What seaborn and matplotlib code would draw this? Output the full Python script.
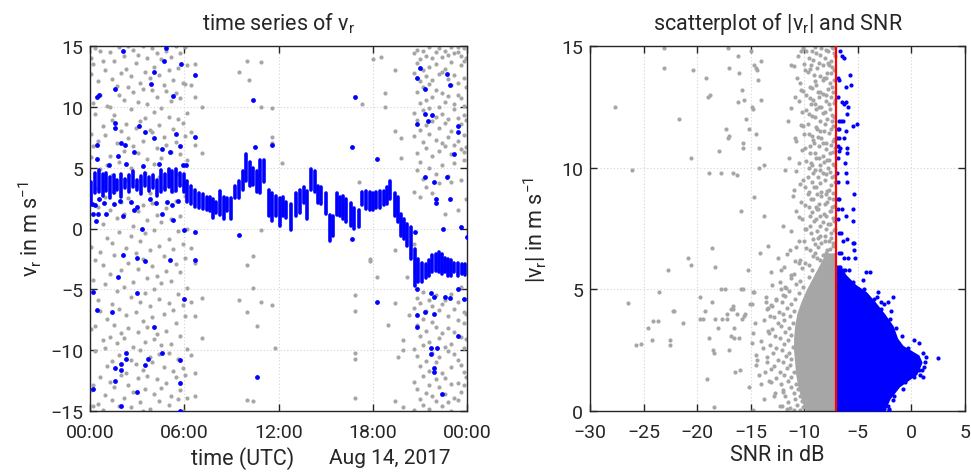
import numpy as np
import pandas as pd
import matplotlib
matplotlib.use("Agg")
import matplotlib.pyplot as plt
import seaborn as sns

# ---------------- data: left panel (time series of v_r) ----------------
# discarded (low-SNR) estimates: time (h) -> list of v_r values
gray_cols = {
    0.05: [14.0, 12.7, 7.8, 5.9, -1.5, -8.3, -13.3],
    0.2: [13.5, 10.3, 6.8, 2.0, -4.2, -12.9, -14.6],
    0.35: [14.8, 9.4, 3.3, -2.6, -8.0, -10.1],
    0.5: [12.1, 7.2, 1.8, -5.9, -14.4],
    0.65: [14.6, 11.0, 4.9, -1.9, -6.8, -12.2],
    0.8: [13.8, 8.4, 0.4, -3.0, -9.2, -14.9],
    0.95: [13.0, 7.7, 2.6, -4.6, -9.8, -13.7],
    1.1: [10.1, 5.2, -0.8, -7.4, -11.3],
    1.25: [14.5, 10.0, 6.0, 1.5, -3.7, -8.9, -12.6],
    1.4: [12.3, 8.9, 4.4, -1.2, -6.2, -10.9, -14.1],
    1.55: [13.8, 9.3, 3.0, -2.2, -7.9, -13.0],
    1.7: [11.7, 7.0, 0.9, -5.1, -9.4],
    1.85: [14.9, 11.0, 5.5, -0.3, -6.6, -10.4, -14.6],
    2.0: [12.8, 8.0, 2.2, -3.4, -8.6, -12.0],
    2.15: [14.2, 10.6, 6.4, 1.2, -4.8, -9.0, -13.9],
    2.3: [13.1, 8.6, 4.0, -1.6, -7.1, -11.9],
    2.45: [15.0, 11.6, 7.4, 2.5, -2.8, -8.2, -12.9],
    2.6: [12.5, 9.8, 5.0, -0.6, -5.6, -10.8, -14.7],
    2.75: [14.7, 11.2, 6.8, 0.2, -4.4, -9.7, -13.4],
    2.9: [13.6, 8.3, 3.5, -2.0, -6.9, -11.1],
    3.05: [14.3, 10.4, 6.2, 1.4, -3.3, -8.5, -12.3],
    3.2: [12.0, 8.8, 3.9, -1.0, -6.0, -10.0, -14.3],
    3.35: [15.0, 11.5, 7.2, 1.9, -2.5, -7.6, -11.6, -15.0],
    3.5: [12.9, 9.1, 4.6, -0.4, -5.3, -9.3, -13.2],
    3.65: [14.0, 10.2, 5.7, 0.7, -4.1, -8.1, -12.1],
    3.8: [12.4, 8.1, 2.9, -1.8, -6.4, -10.6, -14.8],
    3.95: [14.8, 11.4, 7.9, 2.1, -3.1, -7.3, -11.0],
    4.1: [13.3, 9.6, 5.3, -0.1, -5.0, -9.1, -13.6],
    4.25: [14.4, 10.8, 6.6, 1.1, -3.9, -8.7, -12.4],
    4.4: [12.6, 8.5, 4.2, -1.4, -5.8, -10.3, -14.2],
    4.55: [13.9, 9.9, 5.8, 0.5, -4.5, -9.6, -13.1],
    4.7: [11.8, 7.5, 3.4, -2.3, -7.0, -11.4],
    4.85: [14.6, 11.3, 6.9, 1.7, -3.5, -8.4, -12.7],
    5.0: [13.0, 9.2, 4.7, -0.9, -6.1, -10.2, -14.5],
    5.15: [14.1, 10.5, 6.3, 0.8, -4.3, -9.5, -13.8],
    5.3: [12.2, 8.2, 3.1, -1.7, -6.7, -11.7],
    5.45: [15.0, 11.1, 7.1, 2.3, -2.9, -7.8, -12.2],
    5.6: [13.2, 9.0, 4.5, -0.2, -5.4, -10.7, -14.0],
    5.75: [14.4, 10.7, 6.1, 1.0, -3.6, -8.8, -13.3],
    5.9: [12.0, 8.7, 3.6, -1.3, -6.3, -11.5, -15.0],
    6.05: [14.9, 11.9, 7.6, 2.7, -2.4, -7.2, -12.0],
    6.2: [13.4, 9.5, 5.6, 0.0, -4.9, -9.9, -13.9],
    6.4: [11.8, 7.9, -1.6, -6.0, -10.4],
    6.7: [13.5, 10.8, 6.9, -2.8, -7.2, -11.9, -13.8],
    7.1: [10.0, 6.2, -5.7, -9.0],
    9.5: [12.9, -5.9],
    10.0: [13.8, -3.0, -6.9, -14.1],
    10.1: [12.2],
    10.4: [-2.3, -4.9, -14.2],
    10.6: [-8.0],
    10.9: [13.7, 10.0, -0.1, -6.0],
    11.6: [9.9, 7.5, 7.0, -6.3],
    11.8: [-9.8],
    12.2: [5.4],
    16.9: [-5.5, -6.8, -10.2, -10.7, -13.9],
    17.1: [3.8],
    17.3: [10.2],
    17.8: [-2.7, -2.5],
    18.0: [13.9],
    18.3: [-4.0],
    18.5: [14.1],
    18.8: [10.0, 11.1],
    19.0: [-7.9],
    19.4: [13.0, 8.0, -6.1, -1.8, -14.2],
    19.6: [-10.6],
    19.8: [5.8, 7.4],
    19.9: [-9.2, -10.0, -14.7],
    20.2: [-4.0],
    20.3: [-7.1],
    20.6: [14.4, 12.8, 9.5, 7.6, 3.0, -1.3, -6.5, -9.9, -12.6, -14.9],
    20.8: [14.7, 13.6, 11.2, 8.9, 6.2, 4.8, -5.7, -7.9, -10.5, -13.2],
    21.0: [13.9, 12.1, 10.3, 8.1, 5.5, 2.6, -6.1, -8.8, -11.3, -14.0],
    21.2: [14.6, 13.0, 11.6, 9.7, 7.1, 4.1, -5.2, -7.4, -9.6, -12.1, -14.5],
    21.4: [14.2, 12.5, 10.6, 8.5, 6.6, 3.4, -6.8, -8.4, -10.9, -13.5],
    21.6: [14.9, 13.3, 11.9, 9.9, 7.8, 5.0, -5.9, -9.3, -11.7, -12.9, -14.8],
    21.8: [14.0, 12.2, 10.8, 8.8, 6.0, 2.9, -6.4, -7.7, -10.2, -13.8],
    22.0: [14.5, 13.5, 11.4, 9.2, 7.3, 4.5, -5.5, -8.1, -11.0, -12.4, -14.2],
    22.2: [14.8, 12.7, 10.0, 8.3, 6.4, 3.7, -6.7, -9.0, -10.6, -13.0],
    22.4: [14.1, 12.9, 11.1, 9.4, 7.0, 5.2, -6.2, -8.6, -11.9, -14.6],
    22.6: [14.6, 13.1, 10.4, 8.7, 6.8, 1.2, -5.9, -9.7, -12.3, -13.6],
    22.8: [14.3, 12.3, 10.9, 9.0, 7.5, 4.3, -7.2, -8.2, -10.1, -14.3],
    23.0: [14.9, 13.7, 11.8, 8.0, 6.1, 3.8, -5.4, -9.5, -11.4, -12.8, -15.0],
    23.2: [14.4, 12.6, 10.2, 9.8, 6.9, 5.4, -6.6, -8.5, -10.3, -13.9],
    23.4: [14.9, 14.5, 12.0, 11.0, 9.1, 7.2, 1.5, -6.0, -7.5, -10.8, -12.7, -14.1],
    23.6: [14.2, 13.4, 10.7, 8.6, 6.5, 4.0, -4.8, -8.9, -11.2, -13.4],
    23.8: [14.8, 13.8, 12.4, 10.1, 9.3, 7.7, 6.3, 5.6, -6.9, -7.8, -9.8, -11.8, -12.9],
    23.95: [14.0, 11.6, 8.9, 6.7, 2.4, -7.0, -9.1, -12.2],
}

# accepted estimates: continuous range of v_r per profile (time, low, high)
band_t = [0.05, 0.3, 0.55, 0.8, 1.0, 1.25, 1.5, 1.75, 2.0, 2.25, 2.5, 2.75, 3.0, 3.25,
          3.5, 3.75, 4.0, 4.25, 4.5, 4.75, 5.0, 5.25, 5.5, 5.75, 6.0,
          6.2, 6.45, 6.7, 6.95, 7.2, 7.45, 7.65, 7.85, 8.05, 8.3, 8.55, 8.75, 9.0,
          9.25, 9.5, 9.75, 9.95, 10.2, 10.4, 10.6, 10.85, 11.1, 11.4, 11.6, 11.85,
          12.1, 12.3, 12.5, 12.8, 13.1, 13.4, 13.6, 13.8, 14.05, 14.3, 14.5, 14.7,
          15.0, 15.3, 15.5, 15.7, 15.9, 16.1, 16.3, 16.6, 16.8, 17.1, 17.3, 17.6,
          17.8, 18.0, 18.2, 18.45, 18.7, 18.9, 19.1, 19.4, 19.6, 19.8, 20.0, 20.2,
          20.45, 20.7, 20.9, 21.15, 21.4, 21.6, 21.8, 22.0, 22.2, 22.4, 22.6, 22.8,
          23.0, 23.2, 23.45, 23.65, 23.85]
band_lo = [2.2, 2.9, 3.0, 2.7, 3.1, 2.5, 2.9, 3.2, 2.6, 3.3, 3.0, 3.4, 3.2, 2.8,
           3.5, 3.1, 3.3, 2.7, 3.0, 3.2, 3.4, 3.0, 3.1, 3.5, 3.0,
           2.2, 2.0, 1.8, 1.7, 1.6, 1.5, 1.4, 0.9, 1.3, 1.1, 0.8, 1.4, 0.8,
           2.5, 2.5, 3.2, 3.9, 3.5, 3.6, 3.0, 2.9, 3.8, 1.0, 0.6, 1.0,
           0.2, 1.0, 0.9, -0.1, 1.0, 1.3, 2.1, 0.8, 3.2, 3.0, 2.1, 2.0,
           1.2, -1.0, -0.6, 1.1, 1.0, 0.8, 0.5, 0.2, 0.0, 0.1, 1.9, 1.6,
           1.5, 1.5, 1.7, 1.7, 1.9, 2.0, 2.4, 1.0, 0.5, -0.6, -0.9, -1.4,
           -2.5, -4.7, -4.4, -4.4, -4.1, -3.9, -3.6, -3.5, -3.6, -3.7, -3.6, -3.9,
           -3.9, -3.6, -3.9, -3.7, -3.8]
band_hi = [3.8, 4.6, 4.8, 4.5, 4.6, 4.2, 4.4, 4.0, 4.5, 4.1, 4.4, 4.7, 4.0, 4.3,
           4.6, 4.2, 4.4, 4.0, 4.8, 4.5, 4.9, 4.7, 4.9, 4.6, 4.5,
           3.9, 3.5, 3.2, 2.9, 2.8, 2.6, 2.6, 2.4, 2.2, 3.1, 2.6, 2.5, 2.5,
           3.5, 3.9, 4.7, 6.1, 5.5, 5.0, 4.7, 5.6, 5.6, 3.2, 2.9, 2.7,
           2.5, 2.6, 2.2, 2.0, 2.9, 3.2, 3.4, 3.1, 4.9, 4.7, 3.5, 3.4,
           2.9, 1.1, 1.0, 2.9, 2.6, 2.7, 2.4, 2.1, 1.7, 1.5, 3.0, 3.1,
           3.0, 2.9, 3.0, 3.1, 3.1, 3.4, 3.9, 2.9, 2.6, 1.2, 0.8, 0.4,
           0.1, -1.7, -2.5, -2.8, -2.9, -2.6, -2.2, -2.1, -1.95, -2.1, -2.4, -2.5,
           -2.6, -2.8, -2.8, -2.9, -2.9]

# accepted estimates outside the continuous range (time, v_r)
blue_t = [0.43, 0.55, 2.1, 4.85, 5.8, 4.7, 4.1, 3.9, 1.6, 5.3, 6.7, 6.7, 1.6, 1.6, 0.43, 0.43,
          3.1, 3.5, 4.1, 5.5, 5.7, 2.0, 2.2, 1.8, 2.8, 4.6, 5.1, 10.4, 10.5, 11.6, 16.9, 16.7,
          18.3, 20.8, 21.0, 21.3, 20.8, 21.5, 21.8, 21.3, 22.7, 22.9, 23.2, 23.4, 23.4, 21.9,
          21.3, 22.7, 22.0, 22.0, 22.9, 23.6, 22.5, 20.7, 24.0, 0.5, 1.0, 2.1, 2.8, 3.3, 5.3,
          4.6, 6.0, 6.7, 0.4, 0.2, 0.2, 0.43, 1.4, 1.8, 2.1, 3.0, 3.5, 3.0, 4.1, 5.1, 6.0, 6.7,
          2.3, 2.3, 1.6, 2.0, 2.0, 1.6, 0.2, 3.0, 2.0, 3.5, 3.7, 4.6, 5.7, 5.7, 5.7, 9.5, 10.6,
          16.7, 18.3, 20.8, 20.8, 21.3, 21.9, 21.7, 21.7, 22.1, 21.9, 21.9, 22.4, 23.4, 23.4,
          21.9, 22.6, 22.9, 23.8, 21.7, 20.8, 0.1, 0.3, 0.6, 0.9, 1.2, 1.5, 1.9, 2.3, 2.6,
          3.0, 3.4, 3.8, 4.2, 4.4, 4.9, 5.2, 5.6, 5.9, 6.1]
blue_v = [10.8, 11.0, 14.6, 14.8, 13.5, 13.8, 12.9, 11.9, 11.5, 10.9, 12.6, 7.5, 8.7, 8.3, 6.9, 5.7,
          8.4, 7.9, 7.4, 7.8, 6.8, 7.0, 6.9, 6.0, 6.3, 6.5, 6.3, 10.6, 6.7, 6.9, 10.8, 6.7,
          5.7, 12.4, 13.2, 11.5, 8.6, 8.8, 9.3, 9.4, 12.7, 11.8, 6.1, 8.4, 7.9, 3.8,
          4.2, 4.2, 2.4, 2.1, 2.4, 0.1, 0.0, -0.3, -0.7, 1.2, 1.2, 1.0, 1.5, 0.0, 0.7,
          1.2, -0.1, -0.3, 0.6, 1.2, -5.2, -6.7, -6.9, -4.0, -2.2, -2.4, -2.7, -5.3, -8.1, -2.6, -5.8, -2.6,
          -10.2, -10.7, -11.5, -11.1, -11.6, -12.5, -13.2, -13.4, -14.6, -11.2, -10.7, -10.2, -10.8, -12.7, -15.0, -0.5, -12.2,
          -0.9, -6.0, -8.1, -7.1, -6.9, -7.0, -9.8, -10.3, -9.8, -11.5, -11.8, -13.6, -8.8, -5.0,
          -5.6, -5.6, -5.7, -5.8, -5.3, -5.0, 2.0, 1.9, 2.4, 2.1, 5.2, 2.0, 2.3, 5.3, 2.2,
          1.8, 5.1, 2.4, 2.1, 5.3, 2.2, 1.9, 2.3, 5.2, 5.2]

time_ticks = [0, 6, 12, 18, 24]
time_labels = ["00:00", "06:00", "12:00", "18:00", "00:00"]
date_label = "Aug 14, 2017"

# ---------------- data: right panel (|v_r| vs SNR) ----------------
snr_threshold = -7.0

# isolated discarded points (SNR, |v_r|)
gray_snr = [-27.7, -26.1, -23.1, -23.1, -21.7, -20.4, -20.6, -19.2, -19.0, -18.8, -18.9, -18.0, -17.8,
            -17.3, -17.1, -17.0, -17.0, -17.1, -16.7, -16.3, -16.2, -16.1, -15.9, -15.8, -16.2,
            -15.7, -15.7, -15.6, -15.4, -15.2, -15.0, -14.9, -14.8, -14.7, -14.7, -14.5, -14.5,
            -14.4, -14.3, -14.2, -14.2, -14.0, -14.0, -13.8, -13.8,
            -26.5, -25.7, -25.2, -24.6, -24.1, -23.7, -24.2, -23.6, -22.7, -22.5, -22.5, -22.3,
            -22.2, -21.3, -20.9, -20.6, -19.7, -19.7, -19.5, -19.3, -19.1, -18.9, -18.6, -18.6,
            -18.5, -18.4, -18.3, -18.3, -18.4, -18.1, -17.8, -17.4, -17.7, -17.2, -17.2, -17.0,
            -16.8, -16.7, -16.8, -16.6, -16.7, -16.6, -16.5, -16.3, -16.1, -16.0, -15.9, -15.7,
            -15.8, -15.6, -15.5, -15.3, -15.2, -15.1, -14.9, -14.9, -14.8, -14.7, -14.6, -14.5,
            -14.4, -14.2, -14.1, -14.0, -14.8, -13.8, -13.6, -13.5, -13.4,
            -7.3, -7.8, -8.4, -8.9, -9.3, -10.1, -7.5, -8.1, -8.6, -9.6, -10.6, -7.2, -7.9, -8.8,
            -9.1, -9.9, -11.2, -7.6, -8.3, -8.9, -9.5, -10.4, -7.3, -8.0, -8.6, -9.2, -9.8, -10.9,
            -7.7, -8.4, -8.9, -9.4, -10.2, -7.2, -7.9, -8.5, -9.0, -9.7, -11.5, -7.5, -8.2, -8.8,
            -9.3, -10.0, -7.3, -8.0, -8.6, -9.1, -9.9, -10.8, -7.6, -8.3, -8.9, -9.5, -7.2, -7.8,
            -8.5, -9.0, -9.6, -10.5, -11.8, -7.4, -8.1, -8.7, -9.3, -10.1, -7.7, -8.4, -8.9, -9.7,
            -11.0, -7.3, -7.9, -8.6, -9.2, -10.3, -7.6, -8.2, -8.8, -9.5, -10.8, -7.2, -7.8, -8.5,
            -9.1, -9.9, -12.0, -7.5, -8.1, -8.7, -9.4, -10.5, -7.3, -7.9, -8.4, -9.0, -9.8, -11.3,
            -12.5, -7.6, -8.2, -8.8, -9.6, -10.4, -11.9, -13.1,
            -7.1, -7.7, -8.2, -7.4, -8.7, -7.1, -8.1, -7.4, -8.4, -7.1, -7.9, -8.3, -7.1, -8.0,
            -7.4, -8.5, -7.1, -7.7, -8.3, -7.2, -9.4, -10.3, -9.6, -10.1, -9.4, -9.9, -9.6, -10.2,
            -12.8, -13.1, -13.5, -13.9, -13.4, -13.2, -12.6, -11.8, -11.2, -10.5, -12.3, -11.6,
            -13.0, -12.2, -14.5, -14.8, -13.7, -12.0]
gray_abs = [12.5, 9.9, 14.9, 14.1, 12.0, 14.0, 10.4, 13.7, 12.9, 13.0, 9.8, 10.7, 9.8,
            11.6, 14.9, 14.1, 11.3, 11.2, 9.8, 9.7, 14.6, 13.9, 8.2, 13.2, 12.7,
            10.8, 11.0, 12.8, 12.0, 11.6, 14.8, 12.5, 12.4, 8.8, 14.2, 14.1, 11.4,
            14.0, 13.6, 10.8, 10.0, 14.4, 12.8, 10.1, 8.0,
            4.44, 2.7, 2.75, 3.4, 3.7, 3.7, 2.9, 4.9, 5.8, 2.9, 2.7, 4.1,
            4.1, 3.6, 6.3, 6.0, 4.7, 3.8, 3.8, 4.1, 1.3, 3.0, 6.7, 4.5,
            2.5, 2.4, 5.9, 3.8, 0.15, 3.4, 5.0, 5.0, 3.8, 3.8, 4.0, 2.5,
            4.2, 4.2, 3.1, 3.0, 4.3, 3.4, 1.6, 4.0, 3.0, 1.7, 5.0, 5.0,
            3.8, 3.9, 4.0, 5.8, 1.0, 4.4, 4.4, 2.8, 4.9, 4.9, 3.6, 2.3,
            2.1, 1.5, 6.5, 1.1, 0.05, 0.5, 4.5, 4.2, 6.8,
            14.9, 14.8, 14.9, 14.7, 14.8, 14.9, 14.4, 14.5, 14.3, 14.5, 14.6, 14.0, 13.9, 14.1,
            13.8, 14.0, 14.2, 13.5, 13.6, 13.4, 13.3, 13.5, 13.1, 13.0, 12.9, 12.8, 13.0, 12.9,
            12.6, 12.5, 12.4, 12.6, 12.3, 12.1, 12.0, 11.9, 12.1, 11.8, 11.9, 11.6, 11.5, 11.6,
            11.3, 11.4, 11.1, 11.0, 10.9, 11.0, 10.8, 11.1, 10.6, 10.5, 10.4, 10.6, 10.1, 10.0,
            10.1, 9.9, 10.0, 10.2, 9.9, 9.6, 9.5, 9.6, 9.4, 9.5, 9.1, 9.0, 9.2, 8.9,
            9.1, 8.7, 8.6, 8.5, 8.7, 8.6, 8.2, 8.1, 8.3, 8.0, 8.2, 7.8, 7.7, 7.6,
            7.8, 7.5, 7.6, 7.3, 7.2, 7.1, 7.3, 7.0, 6.8, 6.6, 6.9, 6.5, 6.7, 6.6,
            6.3, 6.2, 6.1, 6.3, 6.0, 6.2, 5.9, 5.7,
            14.6, 14.2, 13.7, 13.3, 13.1, 12.8, 12.3, 11.9, 11.2, 10.8, 10.3, 9.8, 9.4, 8.9,
            8.4, 8.0, 7.5, 7.0, 6.4, 6.0, 14.2, 13.2, 12.2, 11.7, 10.2, 9.2, 8.4, 7.9,
            0.6, 1.2, 2.0, 2.6, 3.3, 3.9, 4.6, 5.1, 5.6, 6.1, 0.2, 0.1,
            4.3, 5.0, 1.9, 3.2, 1.6, 0.8]

# crowded discarded points just below the threshold (SNR, |v_r|)
gray_crowd = [
    (-7.4, 14.95), (-8.0, 14.85), (-9.0, 14.97), (-9.8, 14.8), (-7.2, 14.7), (-8.5, 14.62),
    (-10.3, 14.78), (-7.8, 14.3), (-9.2, 14.42), (-10.0, 14.25), (-7.4, 14.12), (-8.3, 14.22),
    (-9.5, 14.05), (-11.0, 14.18), (-7.5, 13.88), (-8.5, 13.78), (-9.7, 13.92), (-7.2, 13.62),
    (-8.0, 13.7), (-9.0, 13.55), (-10.7, 13.68), (-7.8, 13.22), (-8.5, 13.12), (-9.3, 13.27),
    (-10.1, 13.15), (-7.5, 12.92), (-8.3, 13.02), (-9.5, 12.88), (-7.2, 12.66), (-8.0, 12.75),
    (-9.0, 12.61), (-10.5, 12.72), (-7.6, 12.42), (-8.6, 12.5), (-9.8, 12.38), (-11.2, 12.47),
    (-7.4, 12.18), (-8.3, 12.25), (-9.3, 12.12), (-7.3, 11.72), (-8.1, 11.8), (-8.9, 11.68),
    (-10.3, 11.77), (-7.7, 11.42), (-8.5, 11.5), (-9.6, 11.38), (-7.2, 11.18), (-8.7, 11.25),
    (-9.2, 11.12), (-10.9, 11.22), (-7.5, 10.92), (-8.3, 11.0), (-9.5, 10.88), (-7.3, 10.66),
    (-8.0, 10.75), (-9.0, 10.62), (-10.2, 10.72), (-7.7, 10.32), (-8.6, 10.41), (-9.8, 10.28),
    (-11.4, 10.38), (-7.3, 10.17), (-8.2, 10.25), (-9.3, 10.12), (-7.6, 9.82), (-8.5, 9.9),
    (-9.2, 9.78), (-10.8, 9.88), (-7.2, 9.66), (-8.0, 9.74), (-9.7, 9.62), (-7.5, 9.27),
    (-8.5, 9.36), (-9.1, 9.22), (-10.4, 9.33), (-7.3, 8.97), (-7.9, 9.05), (-8.8, 8.93),
    (-9.6, 9.02), (-7.7, 8.77), (-8.4, 8.85), (-9.4, 8.72), (-11.1, 8.82), (-7.2, 8.42),
    (-8.1, 8.5), (-8.9, 8.38), (-9.9, 8.47), (-7.5, 8.22), (-8.7, 8.3), (-9.3, 8.17),
    (-7.3, 7.92), (-8.0, 8.0), (-8.9, 7.88), (-10.5, 7.97), (-7.6, 7.67), (-8.3, 7.75),
    (-9.5, 7.62), (-7.2, 7.42), (-8.0, 7.5), (-8.8, 7.38), (-9.8, 7.47), (-11.2, 7.4),
    (-7.5, 7.12), (-8.5, 7.2), (-9.2, 7.08), (-7.3, 6.92), (-8.1, 7.0), (-9.0, 6.88),
    (-10.0, 6.97), (-7.6, 6.67), (-8.7, 6.75), (-9.5, 6.62), (-10.8, 6.72), (-7.2, 6.42),
    (-8.0, 6.5), (-9.2, 6.38), (-11.6, 6.47), (-7.4, 6.12), (-8.5, 6.2), (-9.9, 6.08),
    (-10.9, 6.17), (-7.3, 5.82), (-8.1, 5.9), (-9.3, 5.78), (-10.2, 5.88), (-12.2, 5.8),
    (-7.6, 5.57), (-8.7, 5.65), (-9.6, 5.52), (-11.0, 5.62),
    (-10.4, 5.35), (-11.2, 5.47), (-12.3, 5.3), (-10.1, 5.1), (-10.8, 5.22), (-11.7, 5.05),
    (-13.0, 5.18), (-10.5, 4.85), (-11.4, 4.95), (-12.0, 4.78), (-10.9, 4.62), (-11.8, 4.74),
    (-12.6, 4.58), (-13.6, 4.68), (-11.2, 4.4), (-12.1, 4.5), (-13.1, 4.37), (-11.0, 4.12),
    (-11.6, 4.25), (-12.4, 4.08), (-13.4, 4.22), (-11.3, 3.9), (-12.0, 4.0), (-12.8, 3.86),
    (-11.1, 3.62), (-11.9, 3.75), (-12.5, 3.6), (-13.8, 3.72), (-11.4, 3.4), (-12.2, 3.5),
    (-13.0, 3.37), (-11.2, 3.12), (-11.8, 3.25), (-12.7, 3.1), (-13.3, 3.22), (-11.5, 2.9),
    (-12.3, 3.0), (-14.0, 2.88), (-11.1, 2.62), (-11.9, 2.75), (-12.6, 2.6), (-13.2, 2.72),
    (-11.4, 2.4), (-12.1, 2.5), (-12.9, 2.37), (-11.2, 2.12), (-11.7, 2.25), (-12.5, 2.1),
    (-13.5, 2.22), (-11.3, 1.9), (-12.0, 2.0), (-12.8, 1.86), (-11.0, 1.62), (-11.6, 1.75),
    (-12.3, 1.6), (-13.1, 1.72), (-11.2, 1.4), (-11.9, 1.5), (-12.6, 1.37), (-10.8, 1.12),
    (-11.5, 1.25), (-12.2, 1.1), (-13.3, 1.22), (-10.6, 0.9), (-11.2, 1.0), (-12.0, 0.86),
    (-10.4, 0.62), (-11.0, 0.75), (-11.8, 0.6), (-12.7, 0.72), (-10.2, 0.4), (-10.9, 0.5),
    (-11.5, 0.37), (-10.1, 0.15), (-10.7, 0.25), (-11.3, 0.12), (-12.1, 0.22), (-10.4, 0.05),
    (-11.0, 0.03),
]

blue_snr = [-6.66, -6.5, -6.3, -6.85, -6.8, -6.1, -5.7, -5.6, -6.85, -6.5, -6.3, -6.1, -5.9,
            -6.0, -6.8, -6.6, -6.4, -5.5, -5.1, -6.85, -6.75, -6.1, -6.95, -6.85, -6.8, -6.7,
            -6.75, -6.0, -6.0, -6.3, -6.9, -6.2, -6.95, -6.1, -6.85, -6.0, -5.4, -6.9, -6.75,
            -5.5, -6.85, -6.5, -6.1, -6.9, -5.5, -6.75, -6.55, -6.4,
            -6.0, -5.5, -5.4, -6.8, -6.6, -6.3, -5.9, -5.4, -5.3, -6.7, -6.2, -5.8, -6.4, -6.1,
            -4.2, -3.9, -4.5, -3.1, -2.8, -2.2, -1.7, -3.2, -0.5, -0.2, 0.2, 0.7, 2.5, 0.7, 1.0,
            1.1, -0.8, -0.6, -0.4, -2.1, -1.7, -2.6, -2.1, -3.0, -2.4, -2.1,
            -2.2, -1.6, -0.6, 0.2, 1.2, 1.4, 1.1, -0.3, -0.9, -1.4, -2.0, -2.8, -3.5, -4.4, -5.5,
            -6.4, -3.0, -1.9, -2.6, 0.8, 1.3, -0.8]
blue_abs = [14.8, 14.6, 14.5, 13.7, 13.6, 13.3, 13.8, 13.4, 12.9, 12.7, 12.6, 12.7, 12.5,
            12.2, 11.9, 11.9, 11.9, 11.7, 11.8, 11.6, 11.6, 11.5, 11.2, 10.9, 10.7, 10.8,
            11.2, 10.8, 10.6, 11.2, 10.4, 10.2, 9.8, 9.8, 9.4, 9.4, 8.9, 8.7, 8.7,
            8.3, 8.3, 8.3, 8.0, 7.9, 7.8, 7.3, 7.3, 7.0,
            7.07, 6.9, 6.9, 6.5, 6.5, 6.3, 6.3, 6.6, 6.3, 5.9, 5.8, 5.8, 5.6, 5.4,
            5.7, 5.7, 5.4, 4.9, 4.5, 4.5, 4.7, 4.7, 2.5, 2.3, 2.9, 2.8, 2.17, 1.7, 1.7,
            1.4, 1.6, 1.4, 1.5, 0.05, 0.45, 0.1, 0.1, 0.3, 0.8, 0.9,
            0.2, 0.6, 1.2, 1.4, 1.8, 2.2, 2.4, 2.6, 3.1, 3.4, 3.8, 4.2, 4.6, 5.0, 5.3,
            5.8, 0.05, 4.1, 4.4, 1.5, 2.0, 0.9]

# envelopes of the saturated (solid) parts of both point clouds
gray_core_abs = [0.0, 0.5, 1.0, 1.5, 2.0, 2.5, 3.0, 3.5, 4.0, 4.5, 5.0, 5.5, 6.0, 6.5]
gray_core_left = [-9.9, -10.3, -10.6, -10.8, -10.9, -11.0, -11.0, -10.9, -10.7, -10.3,
                  -9.8, -9.2, -8.6, -8.0]
blue_core_abs = [0.0, 0.5, 1.0, 1.5, 2.0, 2.3, 2.7, 3.0, 3.5, 4.0, 4.5, 4.9, 5.2, 5.6, 6.0]
blue_core_right = [-2.5, -2.0, -1.1, 0.5, 1.0, 0.7, -0.8, -1.3, -1.7, -2.5, -3.4, -4.2,
                   -5.2, -6.1, -6.7]

# ---------------- build tables ----------------
gray_left = pd.DataFrame([(t, v) for t, vals in gray_cols.items() for v in vals],
                         columns=["time", "vr"])
blue_left = pd.DataFrame({"time": blue_t, "vr": blue_v})
bands = pd.DataFrame({"time": band_t, "lo": band_lo, "hi": band_hi})
gray_right = pd.concat([
    pd.DataFrame({"snr": gray_snr, "absvr": gray_abs}),
    pd.DataFrame(gray_crowd, columns=["snr", "absvr"]),
], ignore_index=True)
blue_right = pd.DataFrame({"snr": blue_snr, "absvr": blue_abs})

# ---------------- style ----------------
sns.set_theme(style="ticks")
plt.rcParams["font.family"] = ["Roboto", "DejaVu Sans"]
plt.rcParams["mathtext.fontset"] = "custom"
plt.rcParams["mathtext.rm"] = "Roboto"
plt.rcParams["mathtext.it"] = "Roboto"
plt.rcParams["mathtext.default"] = "regular"

GRAY = "#a6a6a6"
BLUE = "#0000ff"
INK = "#262626"
FS_TICK = 14
FS_LAB = 15.5

fig = plt.figure(figsize=(9.71, 4.77), dpi=100)
ax1 = fig.add_axes([90 / 971, 65 / 477, 377 / 971, 365 / 477])
ax2 = fig.add_axes([590 / 971, 65 / 477, 375 / 971, 365 / 477])

def style_axes(ax):
    ax.set_axisbelow(True)
    ax.grid(True, linestyle=(0, (1, 2)), color="#d4d4d4", linewidth=0.8)
    for s in ax.spines.values():
        s.set_visible(True)
        s.set_color(INK)
        s.set_linewidth(1.0)
    ax.tick_params(direction="in", top=True, right=True, length=5, width=1.0,
                   color=INK, labelcolor=INK, labelsize=FS_TICK)
    ax.tick_params(axis="x", pad=9)
    ax.tick_params(axis="y", pad=5)

# ---------------- left panel ----------------
sns.scatterplot(data=gray_left, x="time", y="vr", color=GRAY, s=9, linewidth=0,
                ax=ax1, legend=False, zorder=2)
ax1.vlines(bands["time"], bands["lo"], bands["hi"], colors=BLUE, linewidth=2.6,
           capstyle="round", zorder=3)
sns.scatterplot(data=blue_left, x="time", y="vr", color=BLUE, s=12, linewidth=0,
                ax=ax1, legend=False, zorder=4)
ax1.set_xlim(0, 24)
ax1.set_ylim(-15, 15)
ax1.set_xticks(time_ticks)
ax1.set_xticklabels(time_labels)
ax1.set_yticks([-15, -10, -5, 0, 5, 10, 15])
ax1.set_xlabel("")
ax1.set_ylabel("v$_\\mathregular{r}$ in m s$^{\\mathregular{-1}}$", fontsize=FS_LAB,
               color=INK, labelpad=4)
ax1.set_title("time series of v$_\\mathregular{r}$", fontsize=FS_LAB, color=INK, pad=12)
style_axes(ax1)
fig.text(243 / 971, 1 - 459 / 477, "time (UTC)", ha="center", va="center",
         fontsize=FS_LAB, color=INK)
fig.text(390 / 971, 1 - 459 / 477, date_label, ha="center", va="center",
         fontsize=15, color=INK)

# ---------------- right panel ----------------
ax2.fill_betweenx(gray_core_abs, gray_core_left, snr_threshold, color=GRAY,
                  linewidth=0, zorder=2)
sns.scatterplot(data=gray_right, x="snr", y="absvr", color=GRAY, s=9, linewidth=0,
                ax=ax2, legend=False, zorder=2)
ax2.fill_betweenx(blue_core_abs, snr_threshold, blue_core_right, color=BLUE,
                  linewidth=0, zorder=3)
sns.scatterplot(data=blue_right, x="snr", y="absvr", color=BLUE, s=9, linewidth=0,
                ax=ax2, legend=False, zorder=3)
ax2.axvline(snr_threshold, color="red", linewidth=1.6, zorder=5)
ax2.set_xlim(-30, 5)
ax2.set_ylim(0, 15)
ax2.set_xticks([-30, -25, -20, -15, -10, -5, 0, 5])
ax2.set_yticks([0, 5, 10, 15])
ax2.set_xlabel("SNR in dB", fontsize=FS_LAB, color=INK, labelpad=2)
ax2.set_ylabel("|v$_\\mathregular{r}$| in m s$^{\\mathregular{-1}}$", fontsize=FS_LAB,
               color=INK, labelpad=9)
ax2.set_title("scatterplot of |v$_\\mathregular{r}$| and SNR", fontsize=FS_LAB,
              color=INK, pad=12)
style_axes(ax2)

fig.savefig("out.png", dpi=100)
